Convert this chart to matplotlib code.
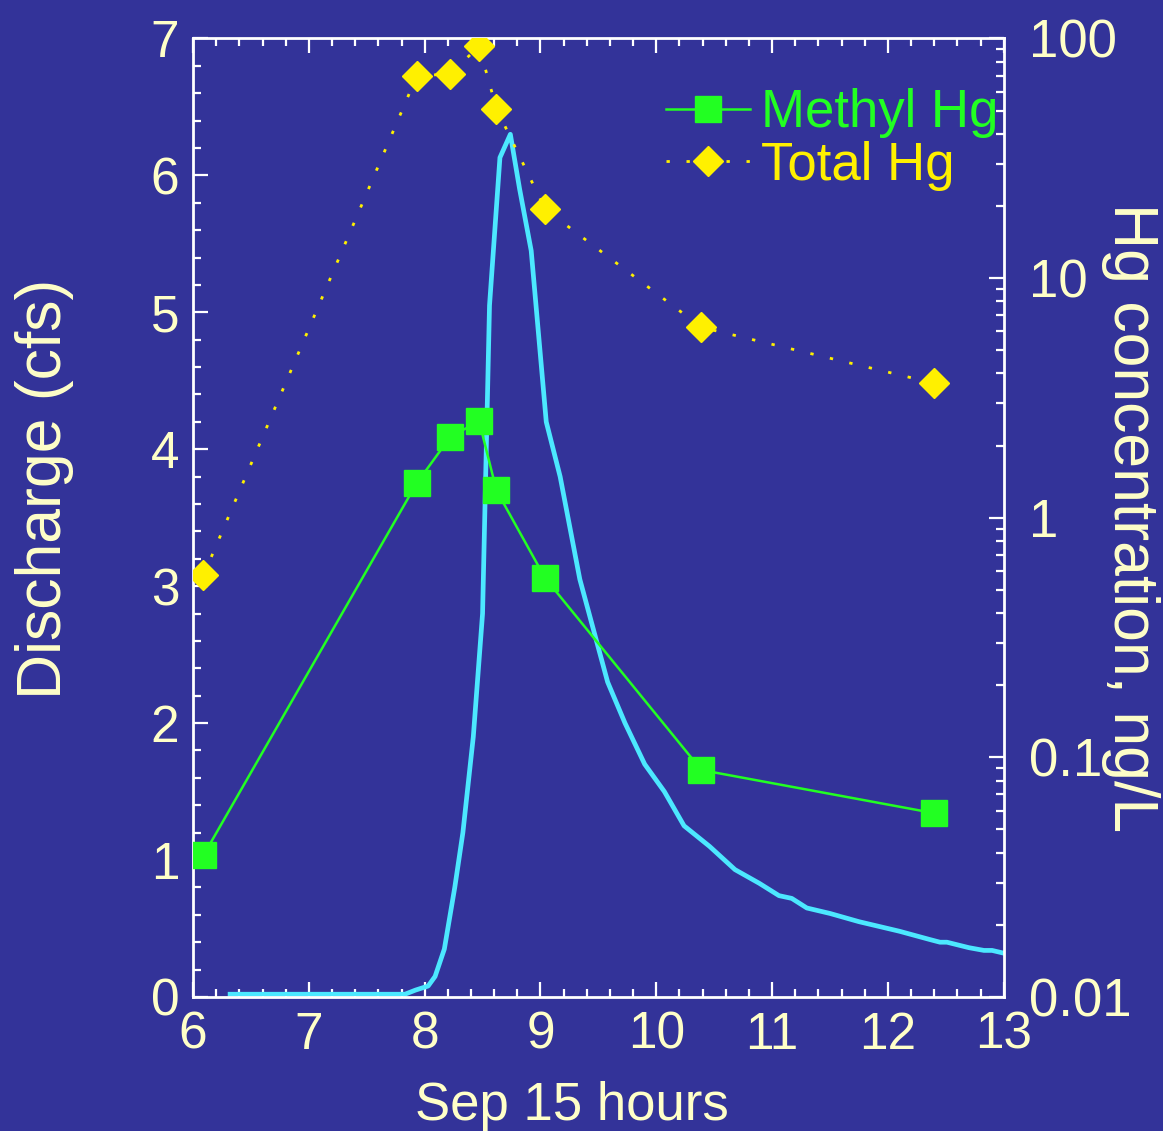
import numpy as np
import matplotlib.pyplot as plt
from matplotlib.ticker import MultipleLocator, LogLocator, NullFormatter

# discharge hydrograph (hours, cfs)
q_hours = [6.32, 7.0, 7.83, 7.92, 8.03, 8.09, 8.17, 8.26, 8.33, 8.42, 8.5, 8.56,
           8.65, 8.74, 8.82, 8.92, 9.05, 9.17, 9.34, 9.58, 9.73, 9.9, 10.07,
           10.24, 10.46, 10.68, 10.89, 11.06, 11.17, 11.3, 11.5, 11.75, 12.1,
           12.36, 12.45, 12.51, 12.7, 12.83, 12.9, 13.0]
q_cfs = [0.02, 0.02, 0.02, 0.05, 0.08, 0.15, 0.35, 0.8, 1.2, 1.9, 2.8, 5.05,
         6.13, 6.3, 5.9, 5.45, 4.2, 3.8, 3.05, 2.3, 2.0, 1.7, 1.5,
         1.25, 1.1, 0.93, 0.83, 0.74, 0.72, 0.65, 0.61, 0.55, 0.48,
         0.42, 0.40, 0.40, 0.36, 0.34, 0.34, 0.32]

# mercury samples (hours, ng/L)
hg_hours = [6.09, 7.93, 8.22, 8.47, 8.62, 9.04, 10.39, 12.4]
methyl_hg = [0.039, 1.39, 2.17, 2.53, 1.30, 0.56, 0.0885, 0.0585]
total_hg = [0.575, 69.4, 71.4, 92.6, 51.0, 19.4, 6.23, 3.64]

bg = '#333399'
cream = '#FFFFC8'
plt.rcParams['font.family'] = ['Liberation Sans', 'DejaVu Sans']

fig = plt.figure(figsize=(11.63, 11.31), dpi=100, facecolor=bg)
ax = fig.add_axes([0.166, 0.1185, 0.697, 0.8475])
ax.set_facecolor(bg)
ax.plot(q_hours, q_cfs, color='#4CE8FF', lw=3.4, zorder=2)
ax.set_xlim(6, 13)
ax.set_ylim(0, 7)
ax.xaxis.set_major_locator(MultipleLocator(1))
ax.xaxis.set_minor_locator(MultipleLocator(0.2))
ax.yaxis.set_major_locator(MultipleLocator(1))
ax.yaxis.set_minor_locator(MultipleLocator(0.2))
ax.tick_params(which='both', direction='in', color='white', width=1.6,
               top=True, right=False, labelcolor=cream, labelsize=37)
ax.tick_params(which='major', length=11, pad=10)
ax.tick_params(which='minor', length=5.5)
ax.set_xlabel('Sep 15 hours', color=cream, fontsize=38)
ax.xaxis.set_label_coords(0.467, -0.088)
ax.set_ylabel('Discharge (cfs)', color=cream, fontsize=45)
ax.yaxis.set_label_coords(-0.147, 0.53)
for s in ax.spines.values():
    s.set_color('white')
    s.set_linewidth(2)

ax2 = ax.twinx()
ax2.set_yscale('log')
ax2.set_ylim(0.01, 100)
ax2.plot(hg_hours, methyl_hg, color='#22FF22', lw=1.8, marker='s', ms=19,
         label='Methyl Hg')
ax2.plot(hg_hours, total_hg, color='#FFF000', lw=2, ls=(0, (1.2, 6)),
         marker='D', ms=15.5, label='Total Hg')
ax2.yaxis.set_major_locator(LogLocator(base=10, numticks=10))
ax2.yaxis.set_minor_locator(LogLocator(base=10, subs=np.arange(2, 10), numticks=10))
ax2.yaxis.set_minor_formatter(NullFormatter())
ax2.yaxis.set_major_formatter(plt.FuncFormatter(lambda v, p: f'{v:g}'))
ax2.tick_params(which='both', direction='in', color='white', width=1.6,
                labelcolor=cream, labelsize=38)
ax2.tick_params(which='major', length=11, pad=18)
ax2.tick_params(which='minor', length=5.5)
ax2.set_ylabel('Hg concentration, ng/L', color=cream, fontsize=45,
               rotation=-90, va='center')
ax2.yaxis.set_label_coords(1.157, 0.5)
for s in ax2.spines.values():
    s.set_visible(False)

leg = ax2.legend(loc='upper right', bbox_to_anchor=(1.019, 0.97), frameon=False,
                 fontsize=38, handlelength=1.6, handletextpad=0.2,
                 labelspacing=0.05, borderaxespad=0)
for t, c in zip(leg.get_texts(), ['#22FF22', '#FFF000']):
    t.set_color(c)

fig.savefig('out.png', dpi=100, facecolor=bg)
